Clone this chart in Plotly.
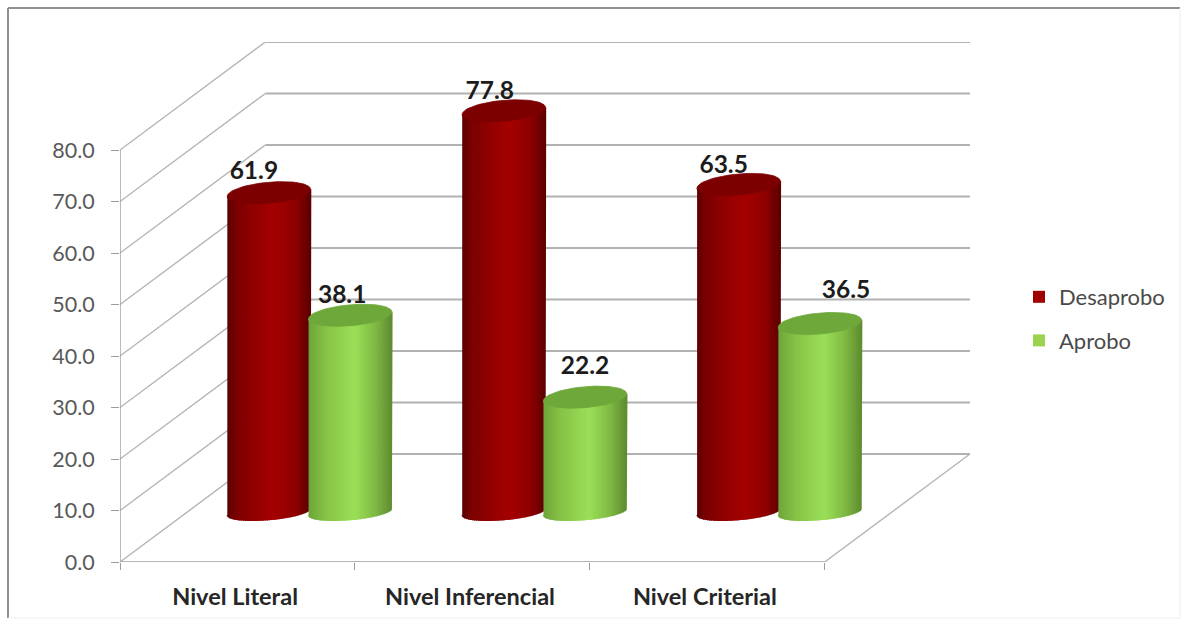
import numpy as np
import plotly.graph_objects as go

categories = ["Nivel Literal", "Nivel Inferencial", "Nivel Criterial"]
desaprobo = [61.9, 77.8, 63.5]
aprobo = [38.1, 22.2, 36.5]
y_ticks = [0, 10, 20, 30, 40, 50, 60, 70, 80]

# geometry (axis units)
PX_X = 234.33
PX_Y = 5.15
DX = 145 / PX_X
DY = 108 / PX_Y
BASE = 50.5 / PX_Y
HALF_W = 41.5 / PX_X
ELL = 10.5 / PX_Y
ELL_BOTTOM = 8 / PX_Y
TILT = 3.5 / PX_Y
CENTER_OFF = {"Desaprobo": 0.634, "Aprobo": 0.98}
N = 42

RED_STOPS = [(-1, (92, 0, 0)), (-.8, (122, 0, 0)), (-.3, (148, 0, 0)), (.15, (165, 0, 0)), (.65, (142, 0, 0)), (1, (92, 0, 0))]
GREEN_STOPS = [(-1, (112, 165, 60)), (-.6, (134, 194, 70)), (.1, (155, 224, 88)), (.6, (128, 186, 68)), (1, (95, 140, 48))]


def shade(stops, u):
    us = [s[0] for s in stops]
    c = [np.interp(u, us, [s[1][i] for s in stops]) for i in range(3)]
    return "rgb(%d,%d,%d)" % tuple(c)


fig = go.Figure()

# walls: gridlines
slx, sly, hx, hy = [], [], [], []
for v in y_ticks:
    slx += [0, DX, None]
    sly += [v, v + DY, None]
    hx += [DX, 3 + DX, None]
    hy += [v + DY, v + DY, None]
slx += [3, 3 + DX, None]
sly += [0, DY, None]
common = dict(mode="lines", hoverinfo="skip", showlegend=False, cliponaxis=False)
fig.add_trace(go.Scatter(x=slx, y=sly, line=dict(color="#b4b4b4", width=1.4), **common))
fig.add_trace(go.Scatter(x=hx, y=hy, line=dict(color="#b2b2b2", width=2), **common))
fig.add_trace(go.Scatter(x=[0, 0, None, 0, 3], y=[0, 80, None, 0, 0],
                         line=dict(color="#9c9c9c", width=1.4), **common))


def cylinders(values, name, stops, top_color):
    offs = CENTER_OFF[name]
    edges = np.linspace(-1, 1, N + 1)
    for j in range(N):
        xs, ys = [], []
        a, b = edges[j], edges[j + 1]
        uu = np.linspace(a, b, 4)
        for i, val in enumerate(values):
            xc = i + offs
            x_up = xc + uu * HALF_W
            circ = np.sqrt(np.clip(1 - uu ** 2, 0, 1))
            y_top = BASE + val + TILT * uu - ELL * circ
            y_bot = BASE + TILT * uu - ELL_BOTTOM * circ
            xs += list(x_up) + list(x_up[::-1]) + [None]
            ys += list(y_top) + list(y_bot[::-1]) + [None]
        col = shade(stops, 0.5 * (a + b))
        fig.add_trace(go.Scatter(x=xs, y=ys, mode="lines", fill="toself", fillcolor=col,
                                 line=dict(color=col, width=1.6), hoverinfo="skip",
                                 showlegend=False, cliponaxis=False))
    # top caps
    t = np.linspace(0, 2 * np.pi, 73)
    xs, ys = [], []
    for i, val in enumerate(values):
        xc = i + offs
        xs += list(xc + HALF_W * np.cos(t)) + [None]
        ys += list(BASE + val + TILT * np.cos(t) + ELL * np.sin(t)) + [None]
    fig.add_trace(go.Scatter(x=xs, y=ys, mode="lines", fill="toself", fillcolor=top_color,
                             line=dict(color=top_color, width=0.8), hoverinfo="skip",
                             showlegend=False, cliponaxis=False))


cylinders(desaprobo, "Desaprobo", RED_STOPS, "#7c0000")
cylinders(aprobo, "Aprobo", GREEN_STOPS, "#6fa83a")

# data labels
label_dx_red = [-15, -14, -15]
label_dy_red = [20, 18, 18]
label_dx_green = [-8, 0, 26]
label_dy_green = [18, 29, 32]
lab_font = dict(family="Lato", size=24.5, color="#1c1c1c", weight="bold")
for vals, name, ldx, ldy in [(desaprobo, "Desaprobo", label_dx_red, label_dy_red),
                             (aprobo, "Aprobo", label_dx_green, label_dy_green)]:
    fig.add_trace(go.Scatter(
        x=[i + CENTER_OFF[name] + ldx[i] / PX_X for i in range(3)],
        y=[BASE + v + ldy[i] / PX_Y for i, v in enumerate(vals)],
        mode="text", text=[f"{v:.1f}" for v in vals], textposition="middle center",
        textfont=lab_font, hoverinfo="skip", showlegend=False, cliponaxis=False))

# legend
for name, col in [("Desaprobo", "#a00000"), ("Aprobo", "#9bd24e")]:
    fig.add_trace(go.Scatter(x=[None], y=[None], mode="markers", name=name, legendgroup=name,
                             marker=dict(symbol="square", size=13, color=col)))

W_AX = 850
H_AX = 520
L, T = 120, 42


def fx(px):
    return (px - L) / W_AX


def fy(py):
    return (T + H_AX - py) / H_AX


frame = [
    (8, 8, 8, 618, "#8f8f8f", 2),
    (8, 8, 1180, 8, "#8f8f8f", 2),
    (1180, 8, 1180, 618, "#efefef", 1),
    (8, 618, 1180, 618, "#efefef", 1),
]
shapes = [dict(type="line", xref="paper", yref="paper", x0=fx(a), y0=fy(b), x1=fx(c), y1=fy(d),
               line=dict(color=col, width=w)) for a, b, c, d, col, w in frame]

fig.update_layout(
    width=1188, height=625, autosize=False,
    margin=dict(l=L, r=1188 - L - W_AX, t=T, b=625 - T - H_AX, pad=0),
    paper_bgcolor="white", plot_bgcolor="white",
    showlegend=True, shapes=shapes,
    legend=dict(x=fx(1019), y=fy(276), xanchor="left", yanchor="top", bgcolor="rgba(0,0,0,0)",
                font=dict(family="Lato", size=22, color="#4a4a4a"), tracegroupgap=12,
                itemsizing="constant"),
    xaxis=dict(range=[0, 3 + DX], showgrid=False, zeroline=False, showline=False,
               tickmode="array", tickvals=[0.49, 1.49, 2.49], ticktext=categories,
               ticks="", ticklabelstandoff=18,
               tickfont=dict(family="Lato", size=23.5, color="#262626", weight="bold"),
               minor=dict(tickmode="array", tickvals=[0, 1, 2, 3], ticks="outside", ticklen=7,
                          tickcolor="#9c9c9c", tickwidth=1.3)),
    yaxis=dict(range=[0, H_AX / PX_Y], showgrid=False, zeroline=False, showline=False,
               tickmode="array", tickvals=y_ticks, ticktext=[f"{v:.1f}" for v in y_ticks],
               ticks="outside", ticklen=8, tickcolor="#9c9c9c", tickwidth=1.3,
               ticklabelstandoff=12,
               tickfont=dict(family="Lato", size=21.5, color="#595959")),
)
fig.write_html("out.html", post_script="document.body.style.margin='0';",
               config={"displayModeBar": False})
